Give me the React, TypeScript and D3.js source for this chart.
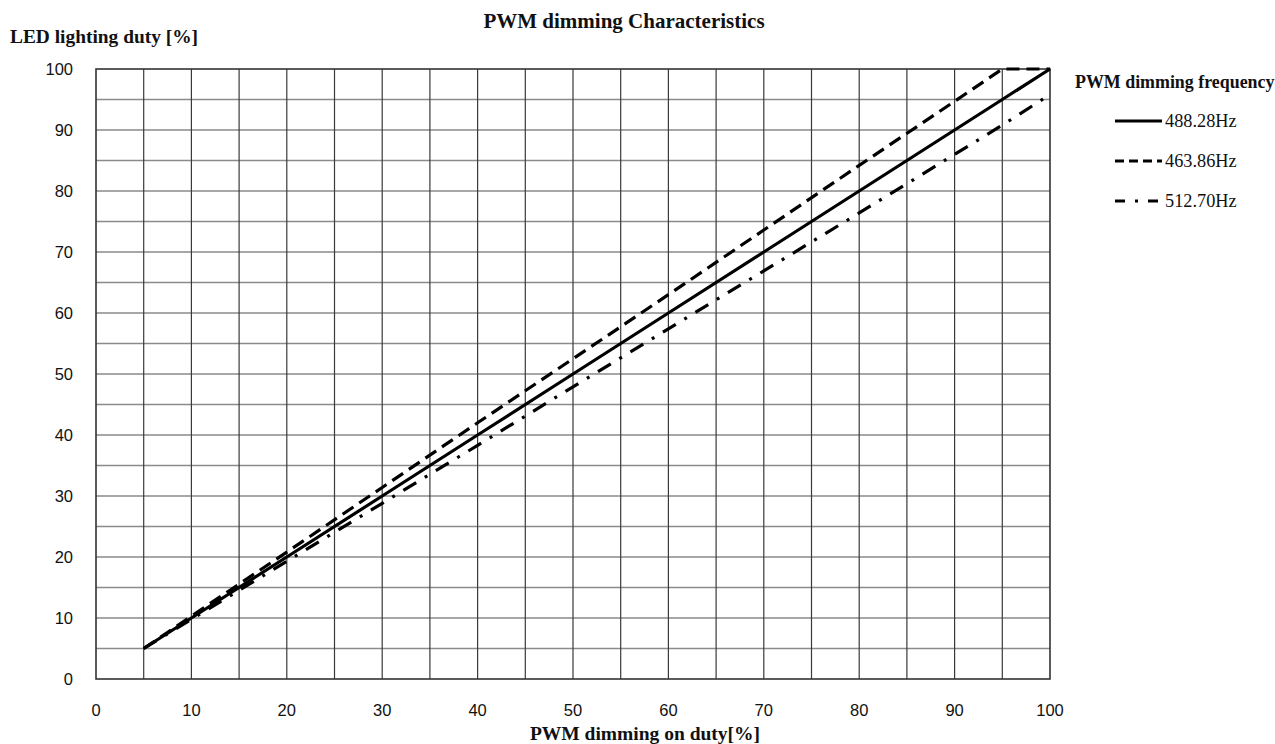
import React from "react";
import * as d3 from "d3";

// values (x = PWM on duty, y = LED lighting duty)
const onDuty = [5, 10, 20, 30, 40, 50, 60, 70, 80, 90, 95, 100];
const duty48828 = [5, 10, 20, 30, 40, 50, 60, 70, 80, 90, 95, 100];
const duty46386 = [5, 10.3, 20.8, 31.4, 42, 52.5, 63, 73.6, 84.2, 94.7, 100, 100];
const duty51270 = [5, 9.8, 19.3, 28.8, 38.3, 47.9, 57.4, 66.9, 76.4, 86, 90.8, 95.8];

const seriesNames = ["488.28Hz", "463.86Hz", "512.70Hz"];
const xTicks = [0, 10, 20, 30, 40, 50, 60, 70, 80, 90, 100];
const yTicks = [0, 10, 20, 30, 40, 50, 60, 70, 80, 90, 100];
const gridSteps = d3.range(5, 100, 5);

const serif = "'Liberation Serif', 'Times New Roman', serif";
const sans = "'Liberation Sans', Arial, sans-serif";

export default function App() {
  const W = 1275, H = 744;
  const margin = { top: 69, right: 225, bottom: 65, left: 96 };

  const x = d3.scaleLinear().domain([0, 100]).range([margin.left, W - margin.right]);
  const y = d3.scaleLinear().domain([0, 100]).range([H - margin.bottom, margin.top]);

  const line = d3.line<[number, number]>().x(d => x(d[0])).y(d => y(d[1]));

  const series = [
    { name: seriesNames[0], values: duty48828, dash: "none" },
    { name: seriesNames[1], values: duty46386, dash: "13,7" },
    { name: seriesNames[2], values: duty51270, dash: "15,10,3,10" },
  ];

  const legendDash = ["none", "9,5", "10,10,3,10"];

  return (
    <svg width={W} height={H} style={{ position: "absolute", left: 0, top: 0, background: "#fff" }}>
      <rect x={0} y={0} width={W} height={H} fill="#fff" />

      {/* grid */}
      <g>
        {gridSteps.map(v => (
          <line key={"h" + v} x1={x(0)} x2={x(100)} y1={y(v)} y2={y(v)} stroke="#8a8a8a" strokeWidth={1.3} />
        ))}
        {gridSteps.map(v => (
          <line key={"v" + v} x1={x(v)} x2={x(v)} y1={y(0)} y2={y(100)} stroke="#3a3a3a" strokeWidth={1.2} />
        ))}
        <rect x={x(0)} y={y(100)} width={x(100) - x(0)} height={y(0) - y(100)} fill="none" stroke="#333" strokeWidth={1.6} />
      </g>

      {/* tick labels */}
      <g fontFamily={sans} fontSize={16.5} fill="#111">
        {yTicks.map(v => (
          <text key={"yt" + v} x={73} y={y(v)} dy="0.36em" textAnchor="end">{v}</text>
        ))}
        {xTicks.map(v => (
          <text key={"xt" + v} x={x(v)} y={710} dy="0.36em" textAnchor="middle">{v}</text>
        ))}
      </g>

      {/* series */}
      <g fill="none" stroke="#000" strokeLinejoin="round">
        {series.map(s => (
          <path
            key={s.name}
            d={line(onDuty.map((d, i) => [d, s.values[i]] as [number, number])) || ""}
            strokeWidth={3.2}
            strokeDasharray={s.dash}
          />
        ))}
      </g>

      {/* titles */}
      <g fontFamily={serif} fontWeight="bold" fill="#111">
        <text x={624} y={28} fontSize={21} textAnchor="middle">PWM dimming Characteristics</text>
        <text x={10} y={43} fontSize={19.4}>LED lighting duty [%]</text>
        <text x={645} y={740} fontSize={19.5} textAnchor="middle">PWM dimming on duty[%]</text>
        <text x={1075} y={88} fontSize={17.9}>PWM dimming frequency</text>
      </g>

      {/* legend */}
      <g fontFamily={serif} fontSize={18.3} fill="#111">
        {seriesNames.map((n, i) => {
          const ly = 121 + i * 40;
          return (
            <g key={n}>
              <line x1={1115} x2={1162} y1={ly} y2={ly} stroke="#000" strokeWidth={3} strokeDasharray={legendDash[i]} />
              <text x={1165} y={ly} dy="0.35em">{n}</text>
            </g>
          );
        })}
      </g>
    </svg>
  );
}
